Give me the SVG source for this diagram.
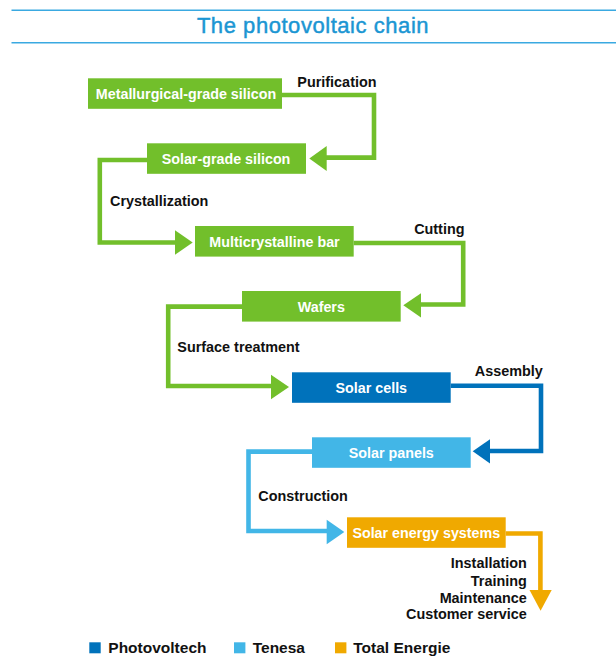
<svg xmlns="http://www.w3.org/2000/svg" width="616" height="658" viewBox="0 0 616 658">
  <style>
    .title { font-family: "Liberation Sans", Arial, sans-serif; font-size: 22px; fill: #1b96d3; stroke: #1b96d3; stroke-width: 0.45px; letter-spacing: 0.55px; }
    .rule { stroke: #3aa9e1; stroke-width: 1.6; fill: none; }
    .box-text { font-family: "Liberation Sans", Arial, sans-serif; font-weight: bold; font-size: 14.3px; fill: #ffffff; text-anchor: middle; }
    .label { font-family: "Liberation Sans", Arial, sans-serif; font-weight: bold; font-size: 14.4px; fill: #111111; }
    .legend-text { font-family: "Liberation Sans", Arial, sans-serif; font-weight: bold; font-size: 15.5px; fill: #111111; }
    .end { text-anchor: end; }
    .green { fill: #72bf2b; }
    .dblue { fill: #0072bb; }
    .lblue { fill: #42b6e7; }
    .orange { fill: #f0a900; }
    .wire { fill: none; stroke-width: 4.6; stroke-linejoin: miter; stroke-linecap: butt; }
    .wire.green { stroke: #72bf2b; }
    .wire.dblue { stroke: #0072bb; }
    .wire.lblue { stroke: #42b6e7; }
    .wire.orange { stroke: #f0a900; }
  </style>

  <!-- heading -->
  <g id="heading">
    <line class="rule" x1="11.5" y1="10.3" x2="616" y2="10.3"/>
    <text class="title" x="313" y="33.3" text-anchor="middle">The photovoltaic chain</text>
    <line class="rule" x1="11.5" y1="42.8" x2="616" y2="42.8"/>
  </g>

  <!-- connectors with their step labels -->
  <g id="connectors">
    <g id="purification">
      <path class="wire green" d="M282,95 H374 V157.6 H324"/>
      <polygon class="green" points="309.3,158.4 326.7,146 326.7,171"/>
      <text class="label end" x="376.5" y="86.7">Purification</text>
    </g>
    <g id="crystallization">
      <path class="wire green" d="M147,160 H99.8 V242.5 H177"/>
      <polygon class="green" points="192.7,242.5 175,230.3 175,254.8"/>
      <text class="label" x="110" y="205.7">Crystallization</text>
    </g>
    <g id="cutting">
      <path class="wire green" d="M353.7,243 H463.2 V304.5 H419"/>
      <polygon class="green" points="403.3,305.3 421,293.2 421,317.4"/>
      <text class="label end" x="464.5" y="234.3">Cutting</text>
    </g>
    <g id="surface-treatment">
      <path class="wire green" d="M242,306.6 H168.2 V386 H273"/>
      <polygon class="green" points="289,387 271,374.8 271,399.3"/>
      <text class="label" x="177.3" y="351.7">Surface treatment</text>
    </g>
    <g id="assembly">
      <path class="wire dblue" d="M450.7,385.8 H541 V451 H488"/>
      <polygon class="dblue" points="472.7,451.3 490,439.2 490,463.4"/>
      <text class="label end" x="542.8" y="376">Assembly</text>
    </g>
    <g id="construction">
      <path class="wire lblue" d="M312,451.6 H248.5 V531 H328"/>
      <polygon class="lblue" points="344.3,532 326.7,519.8 326.7,544.3"/>
      <text class="label" x="258.3" y="501">Construction</text>
    </g>
    <g id="services">
      <path class="wire orange" d="M505.7,533.5 H540.4 V592"/>
      <polygon class="orange" points="540.6,610.7 529.5,590 551.7,590"/>
      <text class="label end" x="526.8" y="567.7">Installation</text>
      <text class="label end" x="526.8" y="585.5">Training</text>
      <text class="label end" x="526.8" y="602.6">Maintenance</text>
      <text class="label end" x="526.8" y="619.4">Customer service</text>
    </g>
  </g>

  <!-- process stages -->
  <g id="metallurgical-grade-silicon">
    <rect class="green" x="88" y="78.3" width="194" height="30.5"/>
    <text class="box-text" x="186" y="98.8">Metallurgical-grade silicon</text>
  </g>
  <g id="solar-grade-silicon">
    <rect class="green" x="147" y="143.3" width="159" height="30.5"/>
    <text class="box-text" x="226" y="163.8">Solar-grade silicon</text>
  </g>
  <g id="multicrystalline-bar">
    <rect class="green" x="195" y="226" width="158.7" height="30.6"/>
    <text class="box-text" x="274.5" y="246.6">Multicrystalline bar</text>
  </g>
  <g id="wafers">
    <rect class="green" x="242" y="291" width="158.7" height="30.6"/>
    <text class="box-text" x="321.3" y="311.6">Wafers</text>
  </g>
  <g id="solar-cells">
    <rect class="dblue" x="292" y="372.3" width="158.7" height="30.5"/>
    <text class="box-text" x="371.3" y="392.8">Solar cells</text>
  </g>
  <g id="solar-panels">
    <rect class="lblue" x="312" y="437.3" width="158.7" height="30.5"/>
    <text class="box-text" x="391.3" y="457.8">Solar panels</text>
  </g>
  <g id="solar-energy-systems">
    <rect class="orange" x="347" y="517.3" width="158.7" height="30.5"/>
    <text class="box-text" x="426.3" y="537.8">Solar energy systems</text>
  </g>

  <!-- legend -->
  <g id="legend">
    <rect class="dblue" x="89.3" y="642.3" width="11.4" height="11"/>
    <text class="legend-text" x="108.3" y="653.3">Photovoltech</text>
    <rect class="lblue" x="234" y="642.3" width="11.4" height="11"/>
    <text class="legend-text" x="252.7" y="653.3">Tenesa</text>
    <rect class="orange" x="335" y="642.3" width="11.4" height="11"/>
    <text class="legend-text" x="353.3" y="653.3">Total Energie</text>
  </g>
</svg>
